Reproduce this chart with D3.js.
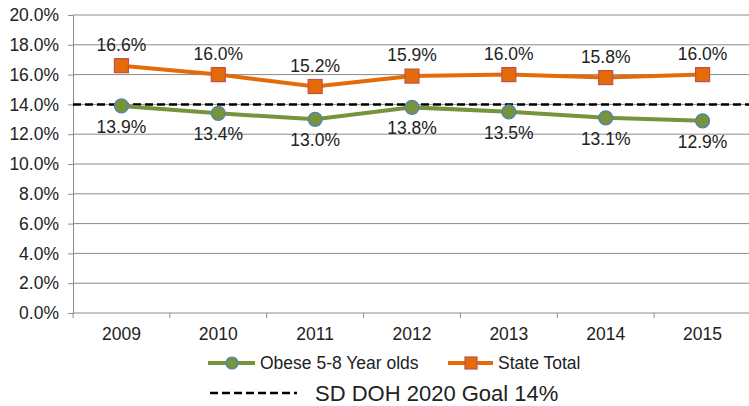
<!DOCTYPE html>
<html>
<head>
<meta charset="utf-8">
<script src="https://cdn.jsdelivr.net/npm/d3@7"></script>
<style>
body { margin: 0; background: #fff; }
text { font-family: "Liberation Sans", Arial, sans-serif; fill: #222; }
</style>
</head>
<body>
<script>
var w = 749;
var h = 406;

//Data
var years = ["2009", "2010", "2011", "2012", "2013", "2014", "2015"];
var obese = [13.9, 13.4, 13.0, 13.8, 13.5, 13.1, 12.9];
var stateTotal = [16.6, 16.0, 15.2, 15.9, 16.0, 15.8, 16.0];
var goal = 14;
var yTicks = [0, 2, 4, 6, 8, 10, 12, 14, 16, 18, 20];

//Plot area
var pLeft = 73, pRight = 751, pTop = 15, pBottom = 313;
var fs = "17.5px";

var svg = d3.select("body")
	.append("svg")
	.attr("width", w)
	.attr("height", h);

var x = d3.scaleBand().domain(years).range([pLeft, pRight]);
var y = d3.scaleLinear().domain([0, 20]).range([pBottom, pTop]);

//Gridlines
svg.selectAll("line.grid")
	.data(yTicks)
	.enter()
	.append("line")
	.attr("class", "grid")
	.attr("x1", pLeft)
	.attr("x2", pRight)
	.attr("y1", function(d) { return y(d); })
	.attr("y2", function(d) { return y(d); })
	.attr("stroke", "#8c8c8c")
	.attr("stroke-width", 1);

//Y axis
var yAxis = svg.append("g")
	.attr("transform", "translate(" + pLeft + ",0)")
	.call(d3.axisLeft(y).tickValues(yTicks).tickSize(5).tickPadding(9)
		.tickFormat(function(d) { return d.toFixed(1) + "%"; }));
yAxis.selectAll("text").style("font-size", fs).attr("fill", "#222");
yAxis.selectAll("line, path").attr("stroke", "#8c8c8c");

//X axis
var xAxis = svg.append("g")
	.attr("transform", "translate(0," + pBottom + ")")
	.call(d3.axisBottom(x).tickSize(0).tickPadding(15));
xAxis.select("path").remove();
xAxis.selectAll("text").style("font-size", fs).attr("fill", "#222");
svg.selectAll("line.xtick")
	.data(years.concat([null]))
	.enter()
	.append("line")
	.attr("class", "xtick")
	.attr("x1", function(d, i) { return pLeft + i * x.step(); })
	.attr("x2", function(d, i) { return pLeft + i * x.step(); })
	.attr("y1", pBottom)
	.attr("y2", pBottom + 5)
	.attr("stroke", "#8c8c8c");

//Goal line
svg.append("line")
	.attr("x1", pLeft)
	.attr("x2", w)
	.attr("y1", y(goal))
	.attr("y2", y(goal))
	.attr("stroke", "#000")
	.attr("stroke-width", 2.5)
	.attr("stroke-dasharray", "8,4");

function cx(d, i) { return x(years[i]) + x.bandwidth() / 2; }

var line = d3.line()
	.x(function(d, i) { return cx(d, i); })
	.y(function(d) { return y(d); });

//Series lines
svg.append("path").datum(obese)
	.attr("d", line).attr("fill", "none")
	.attr("stroke", "#77933c").attr("stroke-width", 4);
svg.append("path").datum(stateTotal)
	.attr("d", line).attr("fill", "none")
	.attr("stroke", "#e36c09").attr("stroke-width", 4);

//Markers
svg.selectAll("circle.ob")
	.data(obese)
	.enter()
	.append("circle")
	.attr("class", "ob")
	.attr("cx", cx)
	.attr("cy", function(d) { return y(d); })
	.attr("r", 7)
	.attr("fill", "#77933c")
	.attr("stroke", "#4f81bd")
	.attr("stroke-width", 1.2);
svg.selectAll("rect.st")
	.data(stateTotal)
	.enter()
	.append("rect")
	.attr("class", "st")
	.attr("x", function(d, i) { return cx(d, i) - 7; })
	.attr("y", function(d) { return y(d) - 7; })
	.attr("width", 14)
	.attr("height", 14)
	.attr("fill", "#e36c09")
	.attr("stroke", "#c0504d")
	.attr("stroke-width", 1.2);

//Labels
svg.selectAll("text.lst")
	.data(stateTotal)
	.enter()
	.append("text")
	.attr("class", "lst")
	.attr("x", cx)
	.attr("y", function(d) { return y(d) - 15; })
	.attr("text-anchor", "middle")
	.style("font-size", fs)
	.text(function(d) { return d.toFixed(1) + "%"; });
svg.selectAll("text.lob")
	.data(obese)
	.enter()
	.append("text")
	.attr("class", "lob")
	.attr("x", cx)
	.attr("y", function(d) { return y(d) + 27; })
	.attr("text-anchor", "middle")
	.style("font-size", fs)
	.text(function(d) { return d.toFixed(1) + "%"; });

//Legend
var lg = svg.append("g");
lg.append("line").attr("x1", 208).attr("x2", 255).attr("y1", 363).attr("y2", 363)
	.attr("stroke", "#77933c").attr("stroke-width", 4);
lg.append("circle").attr("cx", 232).attr("cy", 363).attr("r", 6)
	.attr("fill", "#77933c").attr("stroke", "#4f81bd").attr("stroke-width", 1.2);
lg.append("text").attr("x", 260).attr("y", 369).style("font-size", fs).text("Obese 5-8 Year olds");
lg.append("line").attr("x1", 448).attr("x2", 493).attr("y1", 363).attr("y2", 363)
	.attr("stroke", "#e36c09").attr("stroke-width", 4);
lg.append("rect").attr("x", 465).attr("y", 357).attr("width", 12).attr("height", 12)
	.attr("fill", "#e36c09").attr("stroke", "#c0504d").attr("stroke-width", 1.2);
lg.append("text").attr("x", 498).attr("y", 369).style("font-size", fs).text("State Total");
lg.append("line").attr("x1", 210).attr("x2", 297).attr("y1", 393).attr("y2", 393)
	.attr("stroke", "#000").attr("stroke-width", 2.5).attr("stroke-dasharray", "8,4");
lg.append("text").attr("x", 315).attr("y", 401).style("font-size", "22px").text("SD DOH 2020 Goal 14%");
</script>
</body>
</html>
